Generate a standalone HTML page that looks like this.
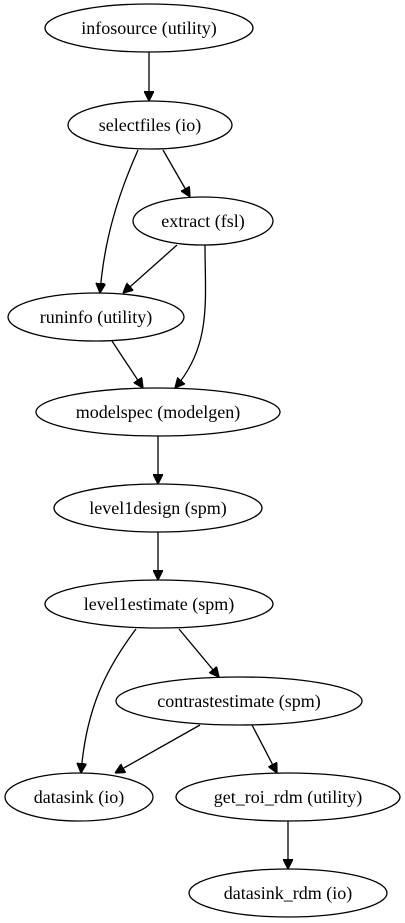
<!DOCTYPE html>
<html><head><style>
html,body{margin:0;padding:0;background:#fff;}
svg{display:block;}
text{font-family:"Liberation Serif",serif;font-size:18px;fill:#000;text-anchor:middle;}
ellipse{fill:none;stroke:#000;stroke-width:1.3;}
path{fill:none;stroke:#000;stroke-width:1.3;}
</style></head><body>
<svg width="405" height="923" viewBox="0 0 405 923" xmlns="http://www.w3.org/2000/svg">
<defs><marker id="a" markerWidth="10" markerHeight="10" refX="10" refY="5" orient="auto" markerUnits="userSpaceOnUse"><path d="M0,0 L10,5 L0,10 Z" style="fill:#000;stroke:#000"/></marker></defs>
<ellipse cx="149" cy="28" rx="104" ry="24"/><text x="149" y="34">infosource (utility)</text>
<ellipse cx="150" cy="125" rx="82" ry="24"/><text x="150" y="131">selectfiles (io)</text>
<ellipse cx="203" cy="221" rx="70" ry="24"/><text x="203" y="227">extract (fsl)</text>
<ellipse cx="96" cy="317" rx="88" ry="24"/><text x="96" y="323">runinfo (utility)</text>
<ellipse cx="158" cy="412" rx="122" ry="24"/><text x="158" y="418">modelspec (modelgen)</text>
<ellipse cx="158" cy="508" rx="104" ry="24"/><text x="158" y="514">level1design (spm)</text>
<ellipse cx="159" cy="604" rx="114" ry="24"/><text x="159" y="610">level1estimate (spm)</text>
<ellipse cx="239" cy="701" rx="123" ry="24"/><text x="239" y="707">contrastestimate (spm)</text>
<ellipse cx="79" cy="797" rx="74" ry="24"/><text x="79" y="803">datasink (io)</text>
<ellipse cx="288" cy="797" rx="112" ry="24"/><text x="288" y="803">get_roi_rdm (utility)</text>
<ellipse cx="288" cy="893" rx="99" ry="24"/><text x="288" y="899">datasink_rdm (io)</text>
<path marker-end="url(#a)" d="M149,52 L149,101"/>
<path marker-end="url(#a)" d="M163,150 L190,197"/>
<path marker-end="url(#a)" d="M138,150 C118,195 104,240 100,293"/>
<path marker-end="url(#a)" d="M177,245 L123,293"/>
<path marker-end="url(#a)" d="M205,245 C205,300 212,345 175,388"/>
<path marker-end="url(#a)" d="M112,341 L143,388"/>
<path marker-end="url(#a)" d="M158,436 L158,484"/>
<path marker-end="url(#a)" d="M158,532 L158,580"/>
<path marker-end="url(#a)" d="M179,629 L219,677"/>
<path marker-end="url(#a)" d="M136,629 C105,670 86,710 81,773"/>
<path marker-end="url(#a)" d="M200,725 L115,773"/>
<path marker-end="url(#a)" d="M252,725 L277,773"/>
<path marker-end="url(#a)" d="M288,821 L288,869"/>
</svg>
</body></html>
